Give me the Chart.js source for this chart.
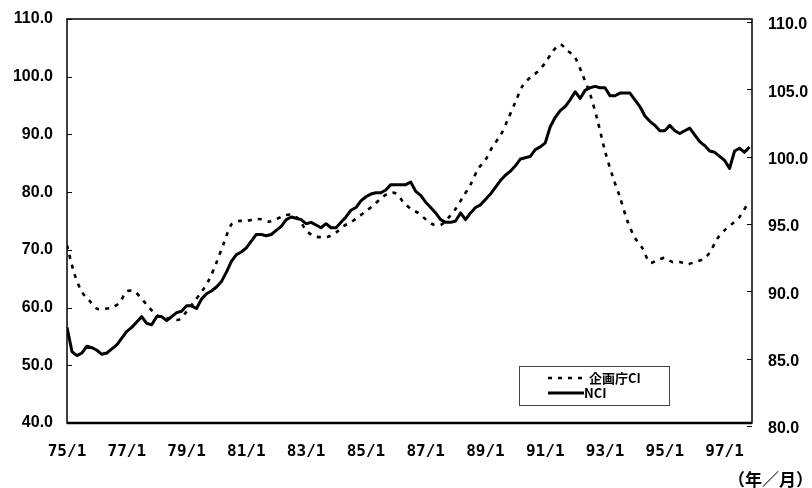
<!DOCTYPE html>
<html>
<head>
<meta charset="utf-8">
<script src="https://cdn.jsdelivr.net/npm/chart.js@4"></script>
<style>
  body { margin: 0; background: #fff; }
  canvas { display: block; }
</style>
</head>
<body>
<canvas id="grafico" width="812" height="488"></canvas>
<script>
// valores
const ciLabel = '企画庁CI';
const nciLabel = 'NCI';

// 企画庁CI (eixo esquerdo), um valor a cada 3 meses desde 75/1
const ciStepMonths = 3;
const ciValues = [
  70.8, 65.8, 62.7, 61.2, 59.8, 59.8, 60.0, 60.8, 62.8, 62.8,
  61.5, 60.0, 58.7, 58.3, 58.0, 57.9, 59.3, 61.0, 62.7, 64.8,
  67.8, 71.2, 74.4, 75.0, 75.0, 75.3, 75.3, 74.9, 75.3, 75.9,
  76.1, 75.3, 73.4, 72.4, 72.2, 72.3, 73.0, 74.1, 74.8, 75.7,
  76.7, 77.7, 78.9, 79.8, 79.8, 78.3, 77.1, 76.4, 75.3, 74.4,
  74.3, 75.5, 77.1, 79.2, 81.3, 84.0, 85.6, 88.0, 89.8, 92.6,
  95.6, 98.5, 99.9, 100.9, 102.4, 104.4, 105.6, 104.5, 103.3, 100.3,
  97.0, 92.4, 87.1, 82.8, 79.1, 75.0, 72.1, 70.3, 67.8, 68.2,
  68.6, 67.9, 67.9, 67.5, 67.9, 68.3, 69.5, 71.9, 73.4, 74.5,
  75.7, 77.8
];

// NCI (eixo direito), um valor a cada 2 meses desde 75/1
const nciStepMonths = 2;
const nciValues = [
  87.1, 85.3, 85.0, 85.2, 85.7, 85.6, 85.4, 85.1, 85.2, 85.5,
  85.8, 86.3, 86.8, 87.1, 87.5, 87.9, 87.4, 87.3, 87.9, 87.9,
  87.6, 87.9, 88.2, 88.3, 88.7, 88.7, 88.5, 89.2, 89.6, 89.8,
  90.1, 90.5, 91.2, 92.0, 92.5, 92.7, 93.0, 93.5, 94.0, 94.0,
  93.9, 94.0, 94.3, 94.6, 95.1, 95.3, 95.2, 95.1, 94.8, 94.9,
  94.7, 94.5, 94.8, 94.5, 94.5, 94.9, 95.3, 95.8, 96.0, 96.5,
  96.8, 97.0, 97.1, 97.1, 97.3, 97.7, 97.7, 97.7, 97.7, 97.9,
  97.2, 96.9, 96.4, 96.0, 95.6, 95.1, 94.9, 94.9, 95.0, 95.6,
  95.1, 95.6, 96.0, 96.2, 96.6, 97.0, 97.5, 98.0, 98.4, 98.7,
  99.1, 99.6, 99.7, 99.8, 100.3, 100.5, 100.8, 102.0, 102.7, 103.2,
  103.5, 104.0, 104.6, 104.1, 104.7, 104.9, 105.0, 104.9, 104.9, 104.3,
  104.3, 104.5, 104.5, 104.5, 104.0, 103.5, 102.8, 102.4, 102.1, 101.7,
  101.7, 102.1, 101.7, 101.5, 101.7, 101.9, 101.4, 100.9, 100.6, 100.2,
  100.1, 99.8, 99.5, 98.9, 100.2, 100.4, 100.1, 100.5
];

// rótulos do eixo X (a cada 24 meses)
const tickLabels = ['75/1', '77/1', '79/1', '81/1', '83/1', '85/1', '87/1', '89/1', '91/1', '93/1', '95/1', '97/1'];
const leftTicks = [40, 110, 10];
const rightTicks = [80, 110, 5];
const unitLabel = '（年／月）';

const ciPoints = ciValues.map((v, i) => ({ x: i * ciStepMonths, y: v }));
const nciPoints = nciValues.map((v, i) => ({ x: i * nciStepMonths, y: v }));

const axisFont = { family: '"Liberation Sans", Arial, sans-serif', size: 16, weight: 'bold' };

// tamanho fixo dos eixos, sem padding extra
const fixY = w => s => { s.width = w; s.paddingTop = 0; s.paddingBottom = 0; };

// moldura do gráfico + pequenas marcas internas + legenda
const molduraPlugin = {
  id: 'moldura',
  afterDraw(chart) {
    const { ctx, chartArea: a } = chart;
    ctx.save();
    ctx.strokeStyle = '#000';
    ctx.lineWidth = 1.5;
    ctx.strokeRect(a.left, a.top, a.right - a.left, a.bottom - a.top);
    ctx.lineWidth = 2.5;
    ctx.beginPath();
    ctx.moveTo(a.left, a.bottom);
    ctx.lineTo(a.right, a.bottom);
    ctx.stroke();
    ctx.lineWidth = 1;
    chart.scales.y.ticks.forEach(t => {
      const py = Math.round(chart.scales.y.getPixelForValue(t.value)) + 0.5;
      ctx.beginPath(); ctx.moveTo(a.left, py); ctx.lineTo(a.left + 5, py); ctx.stroke();
    });
    chart.scales.y2.ticks.forEach(t => {
      const py = Math.round(chart.scales.y2.getPixelForValue(t.value)) + 3.5;
      ctx.beginPath(); ctx.moveTo(a.right - 5, py); ctx.lineTo(a.right, py); ctx.stroke();
    });

    // legenda
    ctx.strokeStyle = '#444';
    ctx.lineWidth = 1;
    ctx.strokeRect(519.5, 366.5, 150, 39);
    const ds = chart.data.datasets;
    ctx.strokeStyle = '#000';
    ctx.lineWidth = 2.5;
    ctx.setLineDash([4, 6]);
    ctx.beginPath(); ctx.moveTo(548, 378); ctx.lineTo(584, 378); ctx.stroke();
    ctx.setLineDash([]);
    ctx.lineWidth = 3;
    ctx.beginPath(); ctx.moveTo(548, 393); ctx.lineTo(584, 393); ctx.stroke();
    ctx.fillStyle = '#000';
    ctx.font = 'bold 13px "Noto Sans CJK JP", sans-serif';
    ctx.textBaseline = 'middle';
    ctx.textAlign = 'left';
    ctx.fillText(ds[0].label, 589, 378);
    ctx.fillText(ds[1].label, 584, 393);

    // unidade do eixo X
    ctx.font = 'bold 17px "Noto Sans CJK JP", sans-serif';
    ctx.fillText(unitLabel, 728, 480);
    ctx.restore();
  }
};

const config = {
  type: 'line',
  data: {
    datasets: [
      {
        label: ciLabel,
        data: ciPoints,
        yAxisID: 'y',
        borderColor: '#000',
        borderWidth: 2.6,
        borderDash: [4, 6],
        pointRadius: 0,
        tension: 0.3
      },
      {
        label: nciLabel,
        data: nciPoints,
        yAxisID: 'y2',
        borderColor: '#000',
        borderWidth: 3,
        borderJoinStyle: 'round',
        pointRadius: 0,
        tension: 0
      }
    ]
  },
  options: {
    responsive: false,
    animation: false,
    devicePixelRatio: 1,
    layout: { padding: { top: 19, left: 0, right: 0, bottom: 0 } },
    plugins: { legend: { display: false }, tooltip: { enabled: false } },
    scales: {
      x: {
        type: 'linear',
        min: 0,
        max: 275,
        grid: { display: false, drawTicks: false },
        border: { display: false },
        afterFit: s => { s.height = 65; s.paddingLeft = 0; s.paddingRight = 0; },
        ticks: {
          stepSize: 24,
          includeBounds: false,
          autoSkip: false,
          maxRotation: 0,
          padding: 19,
          color: '#000',
          font: { family: '"DejaVu Sans Mono", monospace', size: 16, weight: 'bold' },
          callback: v => tickLabels[v / 24] ?? ''
        }
      },
      y: {
        position: 'left',
        min: leftTicks[0],
        max: leftTicks[1],
        grid: { display: false, drawTicks: false },
        border: { display: false },
        afterFit: fixY(67),
        ticks: {
          stepSize: leftTicks[2],
          padding: 14,
          color: '#000',
          font: axisFont,
          callback: v => v.toFixed(1)
        }
      },
      y2: {
        position: 'right',
        min: rightTicks[0],
        max: rightTicks[1],
        grid: { display: false, drawTicks: false },
        border: { display: false },
        afterFit: fixY(60),
        ticks: {
          stepSize: rightTicks[2],
          padding: 16,
          labelOffset: 6,
          color: '#000',
          font: axisFont,
          callback: v => v.toFixed(1)
        }
      }
    }
  },
  plugins: [molduraPlugin]
};

const ctx = document.getElementById('grafico').getContext('2d');
new Chart(ctx, config);
</script>
</body>
</html>
